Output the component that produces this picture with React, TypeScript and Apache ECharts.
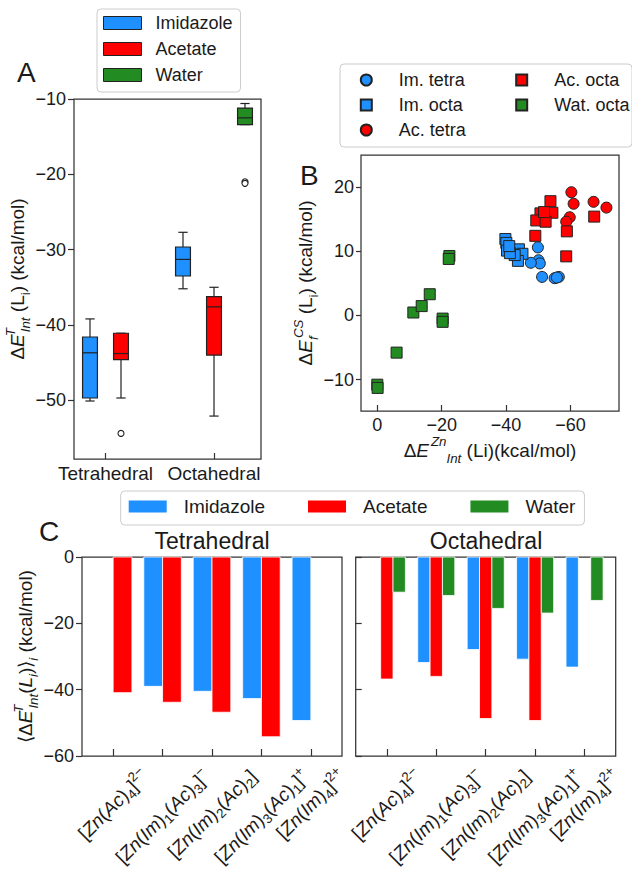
import React, { useEffect, useRef } from 'react';
import * as echarts from 'echarts';

const FONT = '"Liberation Sans", Arial, Helvetica, sans-serif';
const TEXT = '#1a1a1a';
const SPINE = '#333333';
const EDGE = '#222222';
const BLUE = '#1E90FF';
const RED = '#FF0000';
const GREEN = '#228B22';
const MINUS = '\u2212';

// ---------- Panel A (box plots) ----------
const A_GROUPS = ['Tetrahedral', 'Octahedral'];
const A_GROUP_POS = [1.5, 5];
const A_Y_TICKS = [-50, -40, -30, -20, -10];
// [position, whiskerLow, q1, median, q3, whiskerHigh]
const A_BOX_IM = [
  [1, -50.1, -49.7, -43.7, -41.6, -39.2],
  [4, -35.2, -33.5, -31.3, -29.65, -27.7],
];
const A_BOX_AC = [
  [2, -49.7, -44.6, -43.8, -41.1, -41.1],
  [5, -52.1, -44.0, -37.6, -36.25, -35.0],
];
const A_BOX_WAT = [[6, -13.4, -13.4, -12.5, -11.2, -10.6]];
const A_OUTLIERS = [
  [2, -54.4],
  [6, -21.0],
  [6, -21.2],
];

// ---------- Panel B (scatter) ----------
const B_X_TICKS = [0, -20, -40, -60];
const B_Y_TICKS = [-10, 0, 10, 20];
const B_IM_TETRA = [
  [-49.9, 10.6], [-50.1, 8.6], [-50.5, 8.1], [-47.7, 8.2],
  [-51.2, 6.0], [-55.1, 5.8], [-56.4, 6.0], [-55.8, 5.9],
];
const B_IM_OCTA = [
  [-39.8, 11.9], [-40.1, 11.3], [-40.3, 10.1], [-42.2, 10.1], [-44.0, 10.3],
  [-45.1, 9.6], [-43.7, 8.5], [-42.7, 9.4], [-41.2, 9.7], [-41.0, 10.8],
];
const B_AC_TETRA = [
  [-60.3, 19.2], [-61.0, 17.4], [-59.8, 15.3], [-58.7, 14.6], [-67.2, 17.7], [-71.2, 16.8],
];
const B_AC_OCTA = [
  [-53.8, 17.8], [-54.4, 16.0], [-50.7, 15.9], [-49.4, 14.8], [-52.3, 14.6],
  [-49.1, 12.4], [-58.9, 13.1], [-58.7, 9.2], [-67.4, 15.4], [-51.8, 16.1],
];
const B_WAT_OCTA = [
  [0, -10.8], [-0.1, -11.3], [-6.0, -5.8], [-11.2, 0.45], [-13.8, 1.45],
  [-16.3, 3.3], [-20.3, -0.5], [-20.3, -1.0], [-22.4, 9.25], [-22.2, 8.8],
];

// ---------- Panel C (bars) ----------
const C_LABELS = [
  '[Zn(Ac)_4]^{2\u2212}',
  '[Zn(Im)_1(Ac)_3]^{\u2212}',
  '[Zn(Im)_2(Ac)_2]',
  '[Zn(Im)_3(Ac)_1]^{+}',
  '[Zn(Im)_4]^{2+}',
];
const C_Y_TICKS = [0, -20, -40, -60];
const C_TETRA_IM = [null, -39.0, -40.5, -42.7, -49.3];
const C_TETRA_AC = [-40.9, -43.8, -46.8, -54.2, null];
const C_OCTA_IM = [null, -31.8, -27.9, -30.8, -33.2];
const C_OCTA_AC = [-36.8, -36.0, -48.7, -49.3, null];
const C_OCTA_WAT = [-10.6, -11.6, -15.5, -16.9, -13.1];

// ---------- helpers ----------
const NAME_SIZE = 19;
const LABEL_SIZE = 19;
const LABEL_SMALL = 13.3;

function makeRich(size: number, useFill: boolean, lh: number) {
  const small = Math.round(size * 0.7 * 10) / 10;
  const c = useFill ? { fill: TEXT } : { color: TEXT };
  const sm = { ...c, fontFamily: FONT, fontSize: small, lineHeight: small };
  return {
    n: { ...c, fontFamily: FONT, fontSize: size, lineHeight: lh },
    i: { ...c, fontFamily: FONT, fontSize: size, fontStyle: 'italic', lineHeight: lh },
    ie: { ...c, fontFamily: FONT, fontSize: size, fontStyle: 'italic', lineHeight: lh, padding: [0, 2, 0, 0] },
    sub: { ...sm, verticalAlign: 'bottom' },
    subi: { ...sm, fontStyle: 'italic', verticalAlign: 'bottom' },
    sup: { ...sm, verticalAlign: 'top' },
    supi: { ...sm, fontStyle: 'italic', verticalAlign: 'top' },
    // zero-advance variants to stack super/subscripts
    supz: { ...sm, fontStyle: 'italic', verticalAlign: 'top', width: 0 },
    subz: { ...sm, fontStyle: 'italic', verticalAlign: 'bottom', width: 0 },
  };
}

type Tok = { t: string; s: string };
function parseMath(src: string): Tok[] {
  const toks: Tok[] = [];
  let i = 0;
  while (i < src.length) {
    const ch = src[i];
    if (ch === '_' || ch === '^') {
      let g: string;
      if (src[i + 1] === '{') {
        const j = src.indexOf('}', i + 2);
        g = src.slice(i + 2, j);
        i = j + 1;
      } else {
        g = src[i + 1];
        i += 2;
      }
      toks.push({ t: g, s: ch === '_' ? 'sub' : 'sup' });
    } else if (/[A-Za-z]/.test(ch)) {
      let j = i;
      while (j < src.length && /[A-Za-z]/.test(src[j])) j++;
      toks.push({ t: src.slice(i, j), s: 'i' });
      i = j;
    } else {
      let j = i;
      while (j < src.length && !/[A-Za-z_^]/.test(src[j])) j++;
      toks.push({ t: src.slice(i, j), s: 'n' });
      i = j;
    }
  }
  return toks;
}

let measureCtx: CanvasRenderingContext2D | null = null;
function textWidth(s: string, size: number, italic: boolean) {
  if (!measureCtx) measureCtx = document.createElement('canvas').getContext('2d');
  if (!measureCtx) return s.length * size * 0.55;
  measureCtx.font = `${italic ? 'italic ' : ''}${size}px ${FONT}`;
  return measureCtx.measureText(s).width;
}

function mathLabel(src: string) {
  const toks = parseMath(src);
  let w = 0;
  for (const k of toks) {
    const small = k.s === 'sub' || k.s === 'sup';
    w += textWidth(k.t, small ? LABEL_SMALL : LABEL_SIZE, k.s === 'i');
  }
  return { text: toks.map((k) => `{${k.s}|${k.t}}`).join(''), width: w };
}

const fmtMinus = (v: number) => String(v).replace('-', MINUS);

function boxRender(color: string) {
  return (params: any, api: any) => {
    const x = api.value(0);
    const lo = api.coord([x, api.value(1)]);
    const q1 = api.coord([x, api.value(2)]);
    const med = api.coord([x, api.value(3)]);
    const q3 = api.coord([x, api.value(4)]);
    const hi = api.coord([x, api.value(5)]);
    const bw = api.size([0.48, 0])[0];
    const cw = api.size([0.3, 0])[0];
    const cx = q1[0];
    const ls = { stroke: EDGE, lineWidth: 1.2, fill: null };
    return {
      type: 'group',
      children: [
        { type: 'line', shape: { x1: cx, y1: lo[1], x2: cx, y2: q1[1] }, style: ls },
        { type: 'line', shape: { x1: cx, y1: q3[1], x2: cx, y2: hi[1] }, style: ls },
        { type: 'line', shape: { x1: cx - cw / 2, y1: lo[1], x2: cx + cw / 2, y2: lo[1] }, style: ls },
        { type: 'line', shape: { x1: cx - cw / 2, y1: hi[1], x2: cx + cw / 2, y2: hi[1] }, style: ls },
        {
          type: 'rect',
          shape: { x: cx - bw / 2, y: q3[1], width: bw, height: q1[1] - q3[1] },
          style: { fill: color, stroke: EDGE, lineWidth: 1.2 },
        },
        { type: 'line', shape: { x1: cx - bw / 2, y1: med[1], x2: cx + bw / 2, y2: med[1] }, style: ls },
      ],
    };
  };
}

function barRender(color: string, offset: number, width: number) {
  return (params: any, api: any) => {
    const c = api.value(0);
    const v = api.value(1);
    const p0 = api.coord([c + offset, 0]);
    const p1 = api.coord([c + offset + width, v]);
    return {
      type: 'rect',
      shape: { x: p0[0], y: p0[1], width: p1[0] - p0[0], height: p1[1] - p0[1] },
      style: { fill: color, stroke: '#ffffff', lineWidth: 0.8 },
    };
  };
}

const toPairs = (arr: (number | null)[]) =>
  arr.map((v, i) => (v == null ? null : [i, v])).filter((d) => d !== null) as number[][];

function buildOption() {
  const richOpt = makeRich(NAME_SIZE, false, 28);
  const richX = makeRich(NAME_SIZE, false, 30);
  const richFill = makeRich(LABEL_SIZE, true, 25);
  const labelLayouts = C_LABELS.map(mathLabel);
  const tickLabel = { fontFamily: FONT, fontSize: 18, color: TEXT };
  const tickLine = { lineStyle: { color: SPINE, width: 1.2 } };
  const noLine = { show: false, onZero: false };
  const gridBase = { show: true, borderColor: SPINE, borderWidth: 1.25, backgroundColor: 'transparent', containLabel: false };

  const labelSeries = (xi: number) => ({
    type: 'custom',
    name: 'labels' + xi,
    xAxisIndex: xi,
    yAxisIndex: xi,
    silent: true,
    clip: false,
    data: C_LABELS.map((_, i) => [i, -60]),
    renderItem: (params: any, api: any) => {
      const lab = labelLayouts[params.dataIndex];
      const p = api.coord([api.value(0), api.value(1)]);
      const d = (lab.width + 25) * Math.SQRT1_2;
      return {
        type: 'text',
        x: p[0],
        y: p[1] + 8 + d / 2,
        rotation: Math.PI / 4,
        style: {
          text: lab.text,
          rich: richFill,
          fontFamily: FONT,
          fontSize: LABEL_SIZE,
          fill: TEXT,
          align: 'center',
          verticalAlign: 'middle',
        },
      };
    },
  });

  const scatter = (name: string, data: number[][], color: string, symbol: string) => ({
    type: 'scatter',
    name,
    xAxisIndex: 1,
    yAxisIndex: 1,
    data,
    symbol,
    symbolSize: 11,
    itemStyle: { color, borderColor: EDGE, borderWidth: 1, opacity: 1 },
  });

  return {
    animation: false,
    backgroundColor: '#ffffff',
    textStyle: { fontFamily: FONT },
    grid: [
      { ...gridBase, left: 74, top: 99, width: 187, height: 360 },
      { ...gridBase, left: 361, top: 155, width: 258, height: 256 },
      { ...gridBase, left: 82, top: 557, width: 260, height: 199 },
      { ...gridBase, left: 355.7, top: 557, width: 260, height: 199 },
    ],
    xAxis: [
      {
        gridIndex: 0, type: 'value', min: 0.484, max: 6.516,
        axisLine: noLine, splitLine: { show: false },
        axisTick: { show: true, inside: true, length: 6, customValues: A_GROUP_POS, ...tickLine },
        axisLabel: {
          ...tickLabel, fontSize: 19, margin: 5, customValues: A_GROUP_POS,
          formatter: (v: number) => A_GROUPS[A_GROUP_POS.indexOf(v)] ?? '',
        },
      },
      {
        gridIndex: 1, type: 'value', inverse: true, min: -75.1, max: 5.06,
        axisLine: noLine, splitLine: { show: false },
        axisTick: { show: true, inside: true, length: 6, customValues: B_X_TICKS, ...tickLine },
        axisLabel: { ...tickLabel, margin: 5, customValues: B_X_TICKS, formatter: fmtMinus },
        name: '{n|\u0394}{ie|E}{supi|Zn}{subi|Int}{n| (Li)(kcal/mol)}',
        nameLocation: 'middle', nameGap: 24,
        nameTextStyle: { fontFamily: FONT, fontSize: NAME_SIZE, color: TEXT, rich: richX },
      },
      {
        gridIndex: 2, type: 'value', min: -0.63, max: 4.63,
        axisLine: noLine, splitLine: { show: false },
        axisTick: { show: true, inside: true, length: 7, customValues: [0, 1, 2, 3, 4], ...tickLine },
        axisLabel: { show: false },
      },
      {
        gridIndex: 3, type: 'value', min: -0.63, max: 4.63,
        axisLine: noLine, splitLine: { show: false },
        axisTick: { show: true, inside: true, length: 7, customValues: [0, 1, 2, 3, 4], ...tickLine },
        axisLabel: { show: false },
      },
    ],
    yAxis: [
      {
        gridIndex: 0, type: 'value', min: -57.8, max: -10,
        axisLine: noLine, splitLine: { show: false },
        axisTick: { show: true, inside: false, length: 6, customValues: A_Y_TICKS, ...tickLine },
        axisLabel: { ...tickLabel, margin: 8, customValues: A_Y_TICKS, formatter: fmtMinus },
        name: '{n|\u0394}{ie|E}{supz|T}{subi|Int}{n| (L}{sub|i}{n|) (kcal/mol)}',
        nameLocation: 'middle', nameRotate: 90, nameGap: 37,
        nameTextStyle: { fontFamily: FONT, fontSize: NAME_SIZE, color: TEXT, rich: richOpt },
      },
      {
        gridIndex: 1, type: 'value', min: -14.9, max: 25,
        axisLine: noLine, splitLine: { show: false },
        axisTick: { show: true, inside: false, length: 5, customValues: B_Y_TICKS, ...tickLine },
        axisLabel: { ...tickLabel, margin: 7, customValues: B_Y_TICKS, formatter: fmtMinus },
        name: '{n|\u0394}{ie|E}{subz|f}{supi|CS}{n| (L}{sub|i}{n|) (kcal/mol)}',
        nameLocation: 'middle', nameRotate: 90, nameGap: 39,
        nameTextStyle: { fontFamily: FONT, fontSize: NAME_SIZE, color: TEXT, rich: richOpt },
      },
      {
        gridIndex: 2, type: 'value', min: -60, max: 0,
        axisLine: noLine, splitLine: { show: false },
        axisTick: { show: true, inside: false, length: 6, customValues: C_Y_TICKS, ...tickLine },
        axisLabel: { ...tickLabel, margin: 8, customValues: C_Y_TICKS, formatter: fmtMinus },
        name: '{n|\u27E8\u0394}{ie|E}{supz|T}{subi|Int}{n|(}{i|L}{subi|i}{n|)\u27E9}{subi|i}{n| (kcal/mol)}',
        nameLocation: 'middle', nameRotate: 90, nameGap: 42,
        nameTextStyle: { fontFamily: FONT, fontSize: NAME_SIZE, color: TEXT, rich: richOpt },
      },
      {
        gridIndex: 3, type: 'value', min: -60, max: 0,
        axisLine: noLine, splitLine: { show: false },
        axisTick: { show: true, inside: true, length: 6, customValues: C_Y_TICKS, ...tickLine },
        axisLabel: { show: false },
      },
    ],
    legend: [
      {
        orient: 'vertical', left: 97, top: 9, padding: [5, 8, 8, 6], itemGap: 8,
        itemWidth: 38, itemHeight: 13, icon: 'rect',
        backgroundColor: 'rgba(255,255,255,0.8)', borderColor: '#cccccc', borderWidth: 1, borderRadius: 4,
        textStyle: { fontFamily: FONT, fontSize: 18, color: TEXT, lineHeight: 18, padding: [0, 0, 0, 9] },
        selectedMode: false,
        data: [
          { name: 'Imidazole', icon: 'rect', itemStyle: { color: BLUE, borderColor: EDGE, borderWidth: 1 } },
          { name: 'Acetate', icon: 'rect', itemStyle: { color: RED, borderColor: EDGE, borderWidth: 1 } },
          { name: 'Water', icon: 'rect', itemStyle: { color: GREEN, borderColor: EDGE, borderWidth: 1 } },
        ],
      },
      {
        orient: 'vertical', left: 359.8, top: 71, padding: 0, itemGap: 7,
        itemWidth: 11, itemHeight: 11, selectedMode: false,
        textStyle: { fontFamily: FONT, fontSize: 18, color: TEXT, lineHeight: 18, padding: [0, 0, 0, 22] },
        data: ['Im. tetra', 'Im. octa', 'Ac. tetra'],
      },
      {
        orient: 'vertical', left: 515.2, top: 71, padding: 0, itemGap: 7,
        itemWidth: 11, itemHeight: 11, selectedMode: false,
        textStyle: { fontFamily: FONT, fontSize: 18, color: TEXT, lineHeight: 18, padding: [0, 0, 0, 22] },
        data: ['Ac. octa', 'Wat. octa'],
      },
      {
        orient: 'horizontal', left: 120.7, top: 491, padding: [6, 9, 9, 8], itemGap: 43,
        itemWidth: 38, itemHeight: 12, icon: 'rect', selectedMode: false,
        backgroundColor: 'rgba(255,255,255,0.8)', borderColor: '#cccccc', borderWidth: 1, borderRadius: 4,
        textStyle: { fontFamily: FONT, fontSize: 19, color: TEXT, lineHeight: 19, padding: [0, 0, 0, 12] },
        data: [
          { name: 'Imidazole', icon: 'rect', itemStyle: { color: BLUE, borderWidth: 0 } },
          { name: 'Acetate', icon: 'rect', itemStyle: { color: RED, borderWidth: 0 } },
          { name: 'Water', icon: 'rect', itemStyle: { color: GREEN, borderWidth: 0 } },
        ],
      },
    ],
    graphic: [
      {
        type: 'rect', z: 0, shape: { x: 340, y: 64, width: 292, height: 83, r: 4 },
        style: { fill: 'rgba(255,255,255,0.8)', stroke: '#cccccc', lineWidth: 1 },
      },
      { type: 'text', x: 17, y: 72, style: { text: 'A', font: `28px ${FONT}`, fill: TEXT, align: 'left', verticalAlign: 'middle' } },
      { type: 'text', x: 300, y: 175, style: { text: 'B', font: `28px ${FONT}`, fill: TEXT, align: 'left', verticalAlign: 'middle' } },
      { type: 'text', x: 39, y: 531, style: { text: 'C', font: `28px ${FONT}`, fill: TEXT, align: 'left', verticalAlign: 'middle' } },
      { type: 'text', x: 212, y: 541, style: { text: 'Tetrahedral', font: `23px ${FONT}`, fill: TEXT, align: 'center', verticalAlign: 'middle' } },
      { type: 'text', x: 486, y: 541, style: { text: 'Octahedral', font: `23px ${FONT}`, fill: TEXT, align: 'center', verticalAlign: 'middle' } },
    ],
    series: [
      // Panel A
      { type: 'custom', name: 'Imidazole', xAxisIndex: 0, yAxisIndex: 0, itemStyle: { color: BLUE }, data: A_BOX_IM, renderItem: boxRender(BLUE) },
      { type: 'custom', name: 'Acetate', xAxisIndex: 0, yAxisIndex: 0, itemStyle: { color: RED }, data: A_BOX_AC, renderItem: boxRender(RED) },
      { type: 'custom', name: 'Water', xAxisIndex: 0, yAxisIndex: 0, itemStyle: { color: GREEN }, data: A_BOX_WAT, renderItem: boxRender(GREEN) },
      {
        type: 'scatter', name: 'outliers', xAxisIndex: 0, yAxisIndex: 0, data: A_OUTLIERS,
        symbol: 'circle', symbolSize: 6, itemStyle: { color: '#ffffff', borderColor: EDGE, borderWidth: 1.1, opacity: 1 },
      },
      // Panel B
      scatter('Im. tetra', B_IM_TETRA, BLUE, 'circle'),
      scatter('Im. octa', B_IM_OCTA, BLUE, 'rect'),
      scatter('Ac. tetra', B_AC_TETRA, RED, 'circle'),
      scatter('Ac. octa', B_AC_OCTA, RED, 'rect'),
      scatter('Wat. octa', B_WAT_OCTA, GREEN, 'rect'),
      // Panel C tetra
      { type: 'custom', name: 'Imidazole', xAxisIndex: 2, yAxisIndex: 2, itemStyle: { color: BLUE }, data: toPairs(C_TETRA_IM), renderItem: barRender(BLUE, -0.38, 0.38) },
      { type: 'custom', name: 'Acetate', xAxisIndex: 2, yAxisIndex: 2, itemStyle: { color: RED }, data: toPairs(C_TETRA_AC), renderItem: barRender(RED, 0, 0.38) },
      // Panel C octa
      { type: 'custom', name: 'Imidazole', xAxisIndex: 3, yAxisIndex: 3, itemStyle: { color: BLUE }, data: toPairs(C_OCTA_IM), renderItem: barRender(BLUE, -0.375, 0.25) },
      { type: 'custom', name: 'Acetate', xAxisIndex: 3, yAxisIndex: 3, itemStyle: { color: RED }, data: toPairs(C_OCTA_AC), renderItem: barRender(RED, -0.125, 0.25) },
      { type: 'custom', name: 'Water', xAxisIndex: 3, yAxisIndex: 3, itemStyle: { color: GREEN }, data: toPairs(C_OCTA_WAT), renderItem: barRender(GREEN, 0.125, 0.25) },
      labelSeries(2),
      labelSeries(3),
    ],
  };
}

export default function App() {
  const ref = useRef<HTMLDivElement>(null);
  useEffect(() => {
    if (!ref.current) return;
    const chart = echarts.init(ref.current, null, { renderer: 'svg' });
    chart.setOption(buildOption() as any);
    return () => chart.dispose();
  }, []);
  return (
    <div
      ref={ref}
      style={{ position: 'absolute', left: 0, top: 0, width: 632, height: 870, background: '#fff' }}
    />
  );
}
